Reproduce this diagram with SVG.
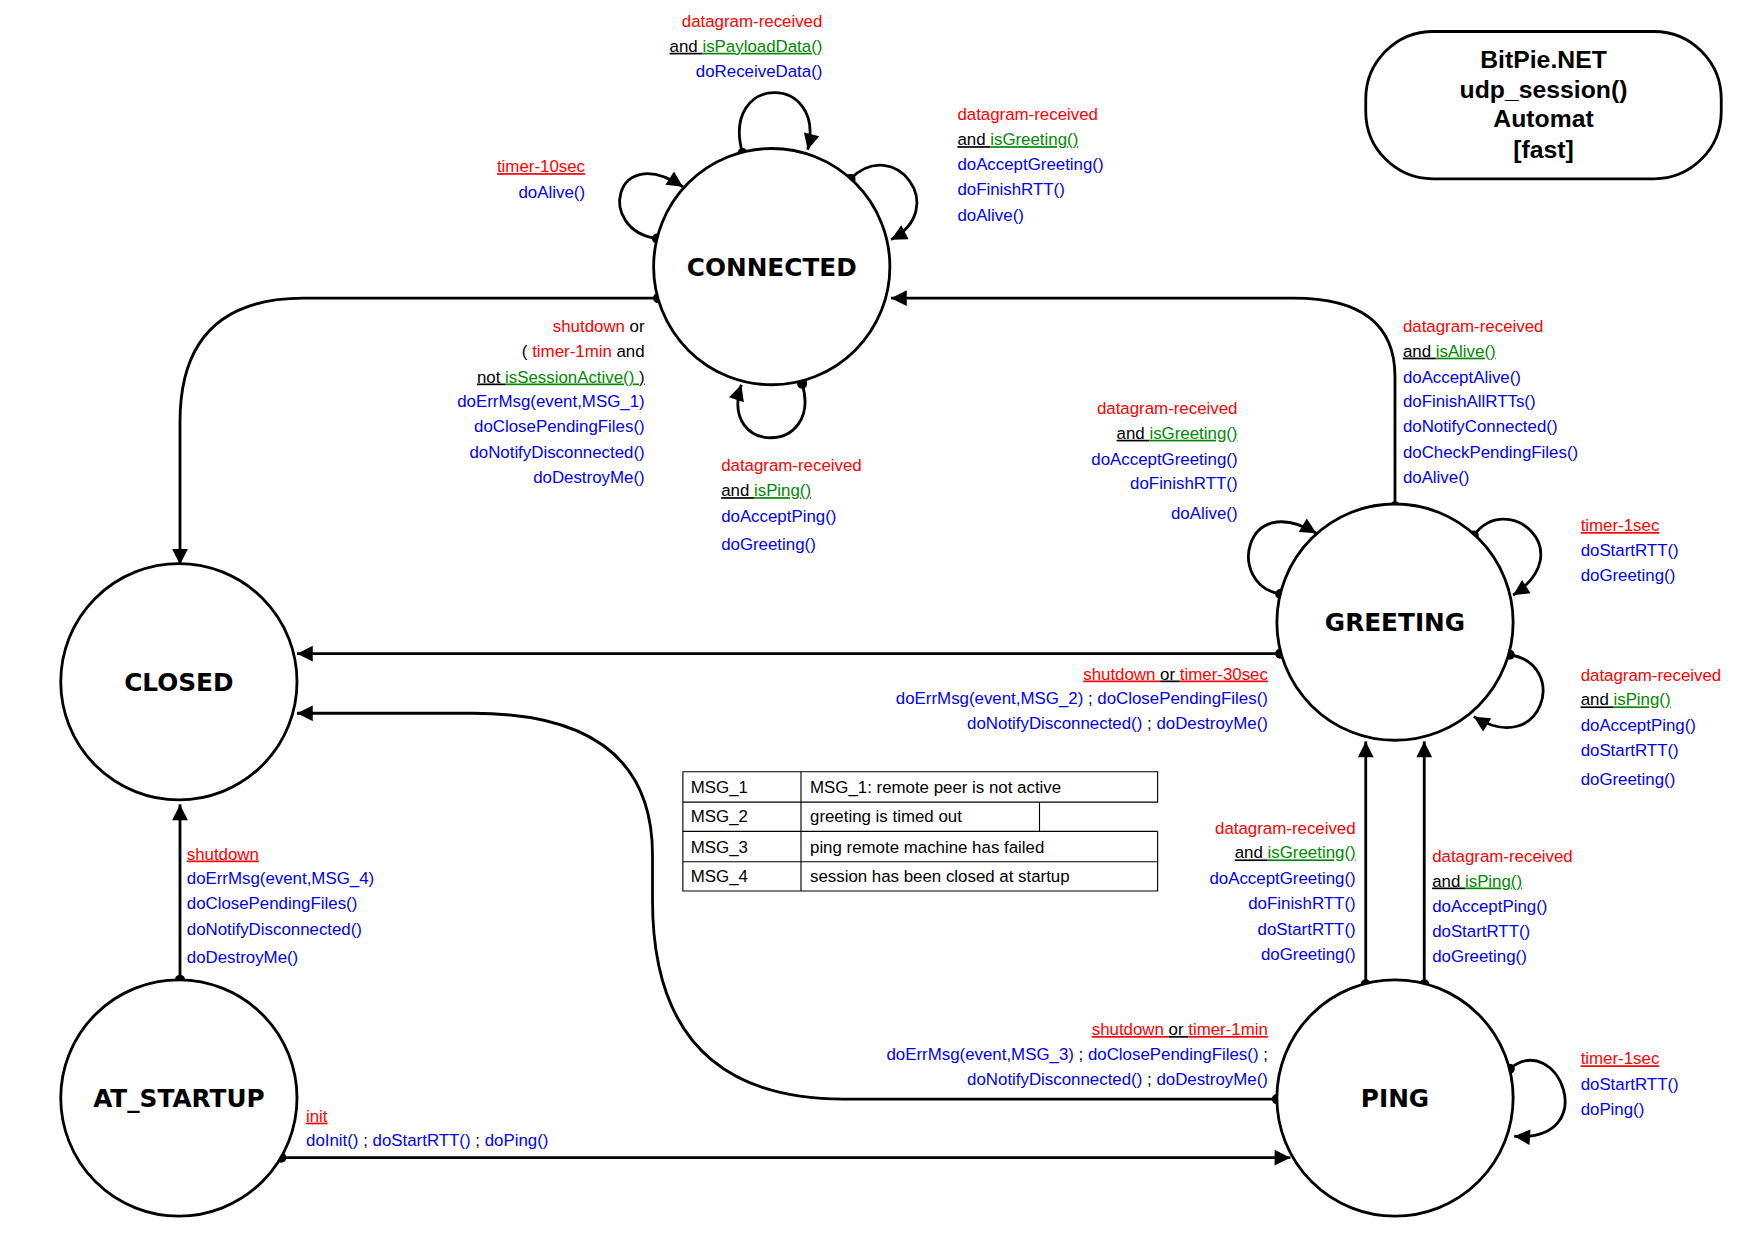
<svg xmlns="http://www.w3.org/2000/svg" width="1755" height="1242" viewBox="0 0 1755 1242">
<style>
text{font-family:"Liberation Sans",Arial,sans-serif;font-size:15px}
.r{fill:#f00}.g{fill:#080}.b{fill:#00f}.k{fill:#000}
.u{text-decoration:underline}
.e{text-anchor:end}
.st{fill:#fff;stroke:#000;stroke-width:2.5}
.sn{font-family:"DejaVu Sans",sans-serif;font-weight:bold;font-size:22px;text-anchor:middle}
.ln{fill:none;stroke:#000;stroke-width:2.5}
.tt{font-weight:bold;font-size:22px;text-anchor:middle}
.tb{fill:none;stroke:#000;stroke-width:1}
</style>
<defs>
<marker id="a" viewBox="0 0 10 10" refX="10" refY="5" markerWidth="18" markerHeight="14" markerUnits="userSpaceOnUse" orient="auto"><path d="M0,0L10,5L0,10z"/></marker>
<marker id="d" viewBox="0 0 10 10" refX="5" refY="5" markerWidth="9" markerHeight="9" markerUnits="userSpaceOnUse"><circle cx="5" cy="5" r="5"/></marker>
</defs>
<rect width="1755" height="1242" fill="#fff"/>
<g transform="scale(1.125)">
<g id="title"><rect x="1214" y="28" width="316" height="131" rx="60" class="st"/>
<text class="tt" x="1372" y="60">BitPie.NET</text><text class="tt" x="1372" y="87">udp_session()</text><text class="tt" x="1372" y="113">Automat</text><text class="tt" x="1372" y="140">[fast]</text></g>
<g id="connectors">
<path class="ln" marker-start="url(#d)" marker-end="url(#a)" d="M585,265H270Q160,265 160,375V502"/>
<path class="ln" marker-start="url(#d)" marker-end="url(#a)" d="M1240,450V335Q1240,265 1150,265H792"/>
<path class="ln" marker-start="url(#d)" marker-end="url(#a)" d="M1138,581H264"/>
<path class="ln" marker-start="url(#d)" marker-end="url(#a)" d="M1135,977H750Q580,977 580,800V760Q580,634 420,634H264"/>
<path class="ln" marker-start="url(#d)" marker-end="url(#a)" d="M160,871V715"/>
<path class="ln" marker-start="url(#d)" marker-end="url(#a)" d="M250,1029H1147"/>
<path class="ln" marker-start="url(#d)" marker-end="url(#a)" d="M1214,875V659"/>
<path class="ln" marker-start="url(#d)" marker-end="url(#a)" d="M1266,875V659"/>
<path class="ln" marker-start="url(#d)" marker-end="url(#a)" d="M660,136C640,65 735,65 718,133"/>
<path class="ln" marker-start="url(#d)" marker-end="url(#a)" d="M756,159C795,120 845,185 792,213"/>
<path class="ln" marker-start="url(#d)" marker-end="url(#a)" d="M584,212C530,205 545,125 607,166"/>
<path class="ln" marker-start="url(#d)" marker-end="url(#a)" d="M713,341C732,405 638,405 659,342"/>
<path class="ln" marker-start="url(#d)" marker-end="url(#a)" d="M1138,528C1090,520 1105,435 1170,474"/>
<path class="ln" marker-start="url(#d)" marker-end="url(#a)" d="M1310,476C1340,435 1405,490 1345,529"/>
<path class="ln" marker-start="url(#d)" marker-end="url(#a)" d="M1342,582C1395,590 1372,675 1310,637"/>
<path class="ln" marker-start="url(#d)" marker-end="url(#a)" d="M1342,950C1385,915 1425,1015 1346,1010"/>
</g>
<g id="CONNECTED"><circle cx="686" cy="237" r="105" class="st"/><text class="sn" x="686" y="245">CONNECTED</text></g>
<g id="GREETING"><circle cx="1240" cy="553" r="105" class="st"/><text class="sn" x="1240" y="561">GREETING</text></g>
<g id="CLOSED"><circle cx="159" cy="606" r="105" class="st"/><text class="sn" x="159" y="614">CLOSED</text></g>
<g id="AT_STARTUP"><circle cx="159" cy="976" r="105" class="st"/><text class="sn" x="159" y="984">AT_STARTUP</text></g>
<g id="PING"><circle cx="1240" cy="976" r="105" class="st"/><text class="sn" x="1240" y="984">PING</text></g>
<g id="connector-labels">
<text class="e r" x="731" y="24">datagram-received</text>
<text class="e" x="731" y="46"><tspan class="k u">and </tspan><tspan class="g u">isPayloadData()</tspan></text>
<text class="e b" x="731" y="68">doReceiveData()</text>

<text class="r" x="851" y="107">datagram-received</text>
<text x="851" y="129"><tspan class="k u">and </tspan><tspan class="g u">isGreeting()</tspan></text>
<text class="b" x="851" y="151">doAcceptGreeting()</text>
<text class="b" x="851" y="173">doFinishRTT()</text>
<text class="b" x="851" y="196">doAlive()</text>

<text class="e r u" x="520" y="153">timer-10sec</text>
<text class="e b" x="520" y="176">doAlive()</text>

<text class="e" x="573" y="295"><tspan class="r">shutdown</tspan><tspan class="k"> or</tspan></text>
<text class="e" x="573" y="317"><tspan class="k">( </tspan><tspan class="r">timer-1min</tspan><tspan class="k"> and</tspan></text>
<text class="e" x="573" y="340"><tspan class="k u">not </tspan><tspan class="g u">isSessionActive() </tspan><tspan class="k u">)</tspan></text>
<text class="e b" x="573" y="362">doErrMsg(event,MSG_1)</text>
<text class="e b" x="573" y="384">doClosePendingFiles()</text>
<text class="e b" x="573" y="407">doNotifyDisconnected()</text>
<text class="e b" x="573" y="429">doDestroyMe()</text>

<text class="r" x="641" y="419">datagram-received</text>
<text x="641" y="441"><tspan class="k u">and </tspan><tspan class="g u">isPing()</tspan></text>
<text class="b" x="641" y="464">doAcceptPing()</text>
<text class="b" x="641" y="489">doGreeting()</text>

<text class="r" x="1247" y="295">datagram-received</text>
<text x="1247" y="317"><tspan class="k u">and </tspan><tspan class="g u">isAlive()</tspan></text>
<text class="b" x="1247" y="340">doAcceptAlive()</text>
<text class="b" x="1247" y="362">doFinishAllRTTs()</text>
<text class="b" x="1247" y="384">doNotifyConnected()</text>
<text class="b" x="1247" y="407">doCheckPendingFiles()</text>
<text class="b" x="1247" y="429">doAlive()</text>

<text class="e r" x="1100" y="368">datagram-received</text>
<text class="e" x="1100" y="390"><tspan class="k u">and </tspan><tspan class="g u">isGreeting()</tspan></text>
<text class="e b" x="1100" y="413">doAcceptGreeting()</text>
<text class="e b" x="1100" y="435">doFinishRTT()</text>
<text class="e b" x="1100" y="461">doAlive()</text>

<text class="r u" x="1405" y="472">timer-1sec</text>
<text class="b" x="1405" y="494">doStartRTT()</text>
<text class="b" x="1405" y="516">doGreeting()</text>

<text class="r" x="1405" y="605">datagram-received</text>
<text x="1405" y="627"><tspan class="k u">and </tspan><tspan class="g u">isPing()</tspan></text>
<text class="b" x="1405" y="650">doAcceptPing()</text>
<text class="b" x="1405" y="672">doStartRTT()</text>
<text class="b" x="1405" y="698">doGreeting()</text>

<text class="e" x="1127" y="604"><tspan class="r u">shutdown </tspan><tspan class="k u">or </tspan><tspan class="r u">timer-30sec</tspan></text>
<text class="e" x="1127" y="626"><tspan class="b">doErrMsg(event,MSG_2)</tspan><tspan class="k"> ; </tspan><tspan class="b">doClosePendingFiles()</tspan></text>
<text class="e" x="1127" y="648"><tspan class="b">doNotifyDisconnected()</tspan><tspan class="k"> ; </tspan><tspan class="b">doDestroyMe()</tspan></text>

<text class="e r" x="1205" y="741">datagram-received</text>
<text class="e" x="1205" y="763"><tspan class="k u">and </tspan><tspan class="g u">isGreeting()</tspan></text>
<text class="e b" x="1205" y="786">doAcceptGreeting()</text>
<text class="e b" x="1205" y="808">doFinishRTT()</text>
<text class="e b" x="1205" y="831">doStartRTT()</text>
<text class="e b" x="1205" y="853">doGreeting()</text>

<text class="r" x="1273" y="766">datagram-received</text>
<text x="1273" y="788"><tspan class="k u">and </tspan><tspan class="g u">isPing()</tspan></text>
<text class="b" x="1273" y="811">doAcceptPing()</text>
<text class="b" x="1273" y="833">doStartRTT()</text>
<text class="b" x="1273" y="855">doGreeting()</text>

<text class="e" x="1127" y="920"><tspan class="r u">shutdown </tspan><tspan class="k u">or </tspan><tspan class="r u">timer-1min</tspan></text>
<text class="e" x="1127" y="942"><tspan class="b">doErrMsg(event,MSG_3)</tspan><tspan class="k"> ; </tspan><tspan class="b">doClosePendingFiles()</tspan><tspan class="k"> ;</tspan></text>
<text class="e" x="1127" y="964"><tspan class="b">doNotifyDisconnected()</tspan><tspan class="k"> ; </tspan><tspan class="b">doDestroyMe()</tspan></text>

<text class="r u" x="1405" y="946">timer-1sec</text>
<text class="b" x="1405" y="969">doStartRTT()</text>
<text class="b" x="1405" y="991">doPing()</text>

<text class="r u" x="166" y="764">shutdown</text>
<text class="b" x="166" y="786">doErrMsg(event,MSG_4)</text>
<text class="b" x="166" y="808">doClosePendingFiles()</text>
<text class="b" x="166" y="831">doNotifyDisconnected()</text>
<text class="b" x="166" y="856">doDestroyMe()</text>

<text class="r u" x="272" y="997">init</text>
<text x="272" y="1019"><tspan class="b">doInit()</tspan><tspan class="k"> ; </tspan><tspan class="b">doStartRTT()</tspan><tspan class="k"> ; </tspan><tspan class="b">doPing()</tspan></text>
</g>
<g id="legend">
<path class="tb" d="M607,686H1029V713H607ZM607,713V792H1029V739M712,686V792M607,739H1029M607,766H1029M924,713V739"/>
<text x="614" y="705">MSG_1</text><text x="720" y="705">MSG_1: remote peer is not active</text>
<text x="614" y="731">MSG_2</text><text x="720" y="731">greeting is timed out</text>
<text x="614" y="758">MSG_3</text><text x="720" y="758">ping remote machine has failed</text>
<text x="614" y="784">MSG_4</text><text x="720" y="784">session has been closed at startup</text>
</g>
</g>
</svg>
